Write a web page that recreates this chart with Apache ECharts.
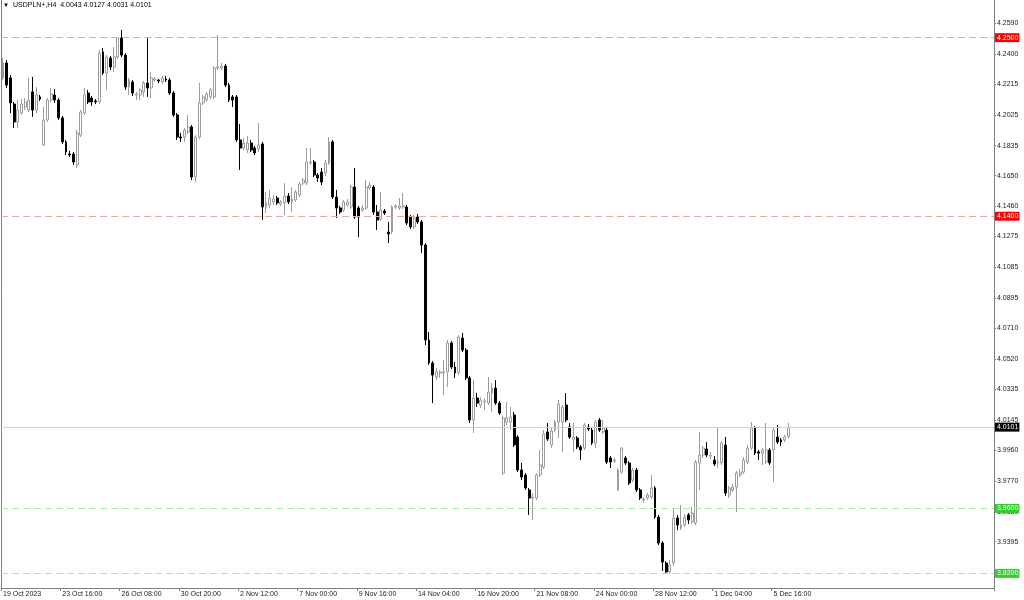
<!DOCTYPE html>
<html><head><meta charset="utf-8">
<script src="https://cdn.jsdelivr.net/npm/echarts@6/dist/echarts.min.js"></script>
<style>html,body{margin:0;padding:0;background:#fff}#c{width:1024px;height:600px}</style>
</head><body><div id="c"></div>
<script>
const symbolName = 'USDPLN+,H4';
const xTickLabels = ['19 Oct 2023','23 Oct 16:00','26 Oct 08:00','30 Oct 20:00','2 Nov 12:00','7 Nov 00:00','9 Nov 16:00','14 Nov 04:00','16 Nov 20:00','21 Nov 08:00','24 Nov 00:00','28 Nov 12:00','1 Dec 04:00','5 Dec 16:00'];
const barsPerLabel = 16;
const emptySlots = 55;
const yTickValues = [4.2590,4.2400,4.2215,4.2025,4.1835,4.1650,4.1460,4.1275,4.1085,4.0895,4.0710,4.0520,4.0335,4.0145,3.9960,3.9770,3.9580,3.9395,3.9205];
const redLevels = [4.2500, 4.1400];
const greenLevels = [3.9600, 3.9200];

const open = [
4.2252,4.2344,4.2252,4.2091,4.1981,4.2036,4.2073,4.2054,4.2166,4.2054,
4.2135,4.1839,4.1993,4.2116,4.2147,4.2116,4.2006,4.1858,4.1783,4.1783,
4.1716,4.1900,4.2036,4.2159,4.2128,4.2110,4.2104,4.2412,4.2282,4.2375,
4.2319,4.2381,4.2498,4.2393,4.2196,4.2227,4.2147,4.2147,4.2166,4.2221,
4.2190,4.2239,4.2239,4.2227,4.2245,4.2239,4.2159,4.2024,4.1888,4.1888,
4.1919,4.1950,4.1642,4.1888,4.2098,4.2116,4.2135,4.2135,4.2313,4.2313,
4.2325,4.2208,4.2135,4.2135,4.1870,4.1820,4.1808,4.1851,4.1820,4.1814,
4.1845,4.1457,4.1469,4.1488,4.1512,4.1475,4.1482,4.1525,4.1488,4.1500,
4.1531,4.1605,4.1605,4.1728,4.1734,4.1654,4.1672,4.1666,4.1728,4.1858,
4.1518,4.1451,4.1438,4.1469,4.1457,4.1580,4.1451,4.1438,4.1451,4.1574,
4.1580,4.1426,4.1383,4.1432,4.1303,4.1303,4.1457,4.1451,4.1457,4.1457,
4.1395,4.1334,4.1395,4.1365,4.1223,4.0638,4.0496,4.0410,4.0435,4.0435,
4.0441,4.0619,4.0471,4.0435,4.0650,4.0576,4.0404,4.0145,4.0280,4.0237,
4.0256,4.0249,4.0311,4.0342,4.0249,3.9818,4.0132,4.0132,4.0176,4.0040,
3.9837,3.9806,3.9714,3.9664,3.9664,3.9806,3.9855,4.0071,3.9991,4.0083,
4.0132,4.0132,4.0237,4.0102,4.0022,4.0034,3.9979,3.9972,4.0102,4.0083,
4.0003,4.0145,4.0071,4.0083,3.9911,3.9892,3.9714,3.9824,3.9911,3.9880,
3.9775,3.9837,3.9714,3.9652,3.9664,3.9670,3.9726,3.9547,3.9387,3.9264,
3.9209,3.9264,3.9541,3.9480,3.9498,3.9560,3.9517,3.9511,3.9880,3.9929,
3.9966,3.9923,3.9898,3.9880,3.9880,3.9991,3.9683,3.9714,3.9732,3.9806,
3.9824,3.9886,3.9972,4.0096,3.9948,3.9941,3.9886,3.9960,3.9960,4.0040,
4.0022,4.0022,4.0043];
const high = [
4.2375,4.2362,4.2270,4.2104,4.2116,4.2122,4.2128,4.2252,4.2258,4.2196,
4.2147,4.2073,4.2128,4.2190,4.2184,4.2128,4.2018,4.1870,4.1802,4.1796,
4.1931,4.2054,4.2190,4.2178,4.2141,4.2122,4.2424,4.2436,4.2393,4.2387,
4.2442,4.2504,4.2547,4.2405,4.2252,4.2239,4.2166,4.2190,4.2233,4.2504,
4.2288,4.2258,4.2245,4.2264,4.2264,4.2252,4.2171,4.2036,4.1913,4.1944,
4.2024,4.1962,4.1900,4.2221,4.2147,4.2166,4.2190,4.2325,4.2516,4.2344,
4.2338,4.2221,4.2147,4.2147,4.1968,4.1882,4.1894,4.1870,4.1833,4.1974,
4.1858,4.1549,4.1562,4.1531,4.1525,4.1500,4.1605,4.1543,4.1580,4.1562,
4.1611,4.1636,4.1820,4.1820,4.1746,4.1666,4.1697,4.1746,4.1888,4.1870,
4.1562,4.1463,4.1500,4.1506,4.1592,4.1697,4.1463,4.1469,4.1623,4.1611,
4.1592,4.1469,4.1549,4.1445,4.1365,4.1469,4.1475,4.1512,4.1543,4.1469,
4.1408,4.1408,4.1414,4.1377,4.1235,4.0687,4.0508,4.0465,4.0453,4.0514,
4.0638,4.0632,4.0502,4.0668,4.0681,4.0588,4.0416,4.0391,4.0311,4.0286,
4.0280,4.0410,4.0373,4.0391,4.0262,4.0169,4.0256,4.0225,4.0194,4.0052,
3.9880,3.9818,3.9726,3.9695,3.9818,3.9960,4.0083,4.0126,4.0096,4.0145,
4.0268,4.0237,4.0311,4.0126,4.0126,4.0046,3.9991,4.0126,4.0120,4.0096,
4.0145,4.0157,4.0145,4.0096,3.9923,3.9911,3.9849,3.9978,3.9923,3.9892,
3.9849,3.9849,3.9726,3.9670,3.9695,3.9806,3.9738,3.9560,3.9399,3.9276,
3.9282,3.9603,3.9560,3.9621,3.9566,3.9572,3.9609,3.9898,4.0071,3.9984,
4.0009,3.9948,3.9923,4.0096,4.0015,4.0040,3.9738,3.9751,3.9831,3.9843,
3.9917,3.9991,4.0132,4.0108,3.9960,3.9972,4.0126,3.9972,4.0102,4.0114,
4.0034,4.0052,4.0127];
const low = [
4.2239,4.2190,4.2036,4.1944,4.1944,4.2024,4.2054,4.2042,4.2012,4.2036,
4.2110,4.1833,4.1981,4.2104,4.2098,4.1993,4.1845,4.1777,4.1765,4.1716,
4.1697,4.1888,4.2024,4.2091,4.2079,4.2091,4.2091,4.2270,4.2178,4.2301,
4.2288,4.2368,4.2381,4.2178,4.2147,4.2141,4.2116,4.2116,4.2135,4.2135,
4.2128,4.2227,4.2221,4.2215,4.2227,4.2147,4.2012,4.1870,4.1858,4.1858,
4.1907,4.1623,4.1611,4.1876,4.2085,4.2104,4.2122,4.2122,4.2301,4.2301,
4.2196,4.2104,4.2073,4.1858,4.1685,4.1808,4.1790,4.1796,4.1777,4.1796,
4.1377,4.1420,4.1451,4.1469,4.1469,4.1463,4.1408,4.1475,4.1426,4.1488,
4.1518,4.1592,4.1592,4.1716,4.1642,4.1611,4.1592,4.1648,4.1716,4.1506,
4.1389,4.1414,4.1426,4.1457,4.1445,4.1383,4.1272,4.1426,4.1438,4.1562,
4.1408,4.1315,4.1371,4.1408,4.1235,4.1291,4.1445,4.1438,4.1445,4.1346,
4.1321,4.1321,4.1352,4.1174,4.0607,4.0484,4.0249,4.0391,4.0404,4.0299,
4.0348,4.0459,4.0404,4.0422,4.0564,4.0391,4.0126,4.0065,4.0225,4.0219,
4.0206,4.0237,4.0194,4.0237,4.0176,3.9806,4.0114,4.0083,3.9978,3.9824,
3.9775,3.9714,3.9560,3.9529,3.9652,3.9794,3.9843,4.0016,3.9972,4.0071,
4.0034,3.9948,4.0132,4.0028,3.9948,3.9966,3.9898,3.9960,4.0077,3.9991,
3.9972,4.0071,4.0059,3.9874,3.9849,3.9880,3.9708,3.9812,3.9868,3.9744,
3.9763,3.9701,3.9652,3.9633,3.9652,3.9658,3.9535,3.9375,3.9215,3.9203,
3.9197,3.9245,3.9467,3.9467,3.9486,3.9504,3.9504,3.9498,3.9714,3.9911,
3.9917,3.9905,3.9861,3.9849,3.9868,3.9677,3.9664,3.9701,3.9578,3.9794,
3.9812,3.9874,3.9960,3.9929,3.9898,3.9868,3.9874,3.9868,3.9763,3.9997,
3.9985,4.0009,4.0031];
const close = [
4.2344,4.2208,4.2098,4.1981,4.2054,4.2091,4.2104,4.2116,4.2054,4.2147,
4.2122,4.1993,4.2116,4.2153,4.2116,4.2006,4.1858,4.1796,4.1777,4.1734,
4.1913,4.2042,4.2147,4.2104,4.2104,4.2104,4.2405,4.2282,4.2381,4.2319,
4.2381,4.2498,4.2393,4.2196,4.2239,4.2159,4.2153,4.2178,4.2221,4.2190,
4.2252,4.2245,4.2233,4.2252,4.2239,4.2159,4.2024,4.1888,4.1882,4.1931,
4.1950,4.1642,4.1888,4.2098,4.2135,4.2153,4.2178,4.2313,4.2319,4.2325,
4.2208,4.2116,4.2116,4.1870,4.1820,4.1851,4.1851,4.1808,4.1790,4.1839,
4.1457,4.1482,4.1512,4.1506,4.1482,4.1488,4.1525,4.1488,4.1506,4.1549,
4.1599,4.1623,4.1734,4.1734,4.1654,4.1636,4.1611,4.1728,4.1858,4.1518,
4.1451,4.1426,4.1488,4.1488,4.1580,4.1395,4.1395,4.1451,4.1580,4.1592,
4.1426,4.1377,4.1438,4.1420,4.1291,4.1457,4.1463,4.1463,4.1463,4.1358,
4.1334,4.1389,4.1365,4.1223,4.0638,4.0496,4.0422,4.0441,4.0441,4.0441,
4.0619,4.0471,4.0435,4.0656,4.0576,4.0404,4.0145,4.0280,4.0249,4.0268,
4.0262,4.0317,4.0342,4.0249,4.0188,4.0157,4.0157,4.0163,3.9991,3.9837,
3.9794,3.9726,3.9664,3.9670,3.9806,3.9868,4.0059,4.0028,4.0077,4.0132,
4.0243,4.0225,4.0145,4.0040,4.0040,3.9979,3.9960,4.0114,4.0089,4.0003,
4.0132,4.0083,4.0096,3.9886,3.9886,3.9898,3.9837,3.9972,3.9880,3.9757,
3.9837,3.9714,3.9664,3.9658,3.9683,3.9726,3.9547,3.9387,3.9270,3.9209,
3.9252,3.9541,3.9498,3.9498,3.9547,3.9529,3.9572,3.9886,3.9929,3.9972,
3.9929,3.9929,3.9874,3.9886,4.0003,3.9695,3.9726,3.9732,3.9818,3.9824,
3.9898,3.9972,4.0096,3.9941,3.9941,3.9960,3.9960,3.9880,4.0083,4.0009,
4.0009,4.0040,4.0101];

const FONT = "'Liberation Sans', Arial, sans-serif";
const n = open.length;
const categories = [];
for (let i = 0; i < n + emptySlots; i++) categories.push(String(i));
const candles = open.map((o, i) => [o, close[i], low[i], high[i]]);
const lastClose = close[n - 1];
const f4 = v => Number(v).toFixed(4);
const header = symbolName + '  ' + [open[n-1], high[n-1], low[n-1], close[n-1]].map(f4).join(' ');

function levelLine(v, lineColor, boxColor, dashed) {
  return {
    yAxis: v,
    lineStyle: { color: lineColor, width: 1, type: dashed ? [7, 4] : 'solid' },
    label: { show: true, position: 'end', distance: 1, formatter: p => f4(p.value),
      color: '#ffffff', backgroundColor: boxColor, padding: [1, 1, 0, 2],
      fontSize: 7, fontFamily: FONT, lineHeight: 8 }
  };
}
const lines = [];
redLevels.forEach(v => lines.push(levelLine(v, '#f4a3a3', '#ff0000', true)));
greenLevels.forEach(v => lines.push(levelLine(v, '#a6eba6', '#33cc33', true)));
lines.push(levelLine(lastClose, '#d0d0d0', '#000000', false));

const chart = echarts.init(document.getElementById('c'), null, { renderer: 'canvas' });
chart.setOption({
  animation: false,
  backgroundColor: '#ffffff',
  title: {
    text: '{t|▼}' + header, left: 2, top: 2, padding: 0,
    textStyle: { fontSize: 7, fontWeight: 'normal', color: '#000', fontFamily: FONT,
      rich: { t: { fontSize: 6, padding: [0, 4, 0, 1], color: '#000' } } }
  },
  grid: { left: 1, right: 30, top: 0, bottom: 12 },
  xAxis: {
    type: 'category', data: categories, boundaryGap: true,
    axisLine: { show: true, lineStyle: { color: '#808080', width: 1 } },
    axisTick: { show: true, length: 3, interval: idx => idx % barsPerLabel === 0 && idx < n,
      lineStyle: { color: '#808080' } },
    axisLabel: { interval: idx => idx % barsPerLabel === 0 && idx < n, align: 'left', margin: 3,
      fontSize: 7, color: '#222', fontFamily: FONT,
      formatter: (val, idx) => (idx % barsPerLabel === 0 ? (xTickLabels[idx / barsPerLabel] || '') : '') },
    splitLine: { show: false }
  },
  yAxis: [{
    type: 'value', position: 'right', min: 3.9110, max: 4.2732, scale: true,
    axisLine: { show: true, lineStyle: { color: '#808080', width: 1 } },
    axisTick: { show: true, length: 2, customValues: yTickValues, lineStyle: { color: '#808080' } },
    axisLabel: { customValues: yTickValues, margin: 3, fontSize: 7, color: '#222', fontFamily: FONT,
      formatter: v => f4(v) },
    splitLine: { show: false }
  }, {
    type: 'value', position: 'left', min: 0, max: 1,
    axisLine: { show: true, lineStyle: { color: '#808080', width: 1 } },
    axisTick: { show: false }, axisLabel: { show: false }, splitLine: { show: false }
  }],
  series: [{
    type: 'candlestick', data: candles, barWidth: 2.4, yAxisIndex: 0,
    itemStyle: { color: '#ffffff', color0: '#000000', borderColor: '#9c9c9c', borderColor0: '#000000', borderWidth: 1 },
    emphasis: { disabled: true },
    markLine: { silent: true, precision: 4, symbol: ['none', 'none'], animation: false, data: lines }
  }]
});
</script></body></html>
